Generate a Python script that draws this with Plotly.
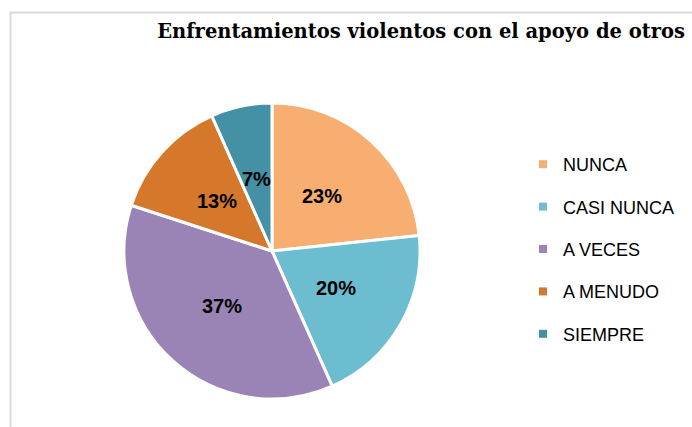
import math
import plotly.graph_objects as go

# Data
categories = ["NUNCA", "CASI NUNCA", "A VECES", "A MENUDO", "SIEMPRE"]
counts = [7, 6, 11, 4, 2]
title_text = "Enfrentamientos violentos con el apoyo de otros"

# Styles
slice_colors = ["#F8AE70", "#6DBDD1", "#9A84B5", "#D6782C", "#4490A5"]
W, H = 692, 427
pie_x = [124 / W, 420 / W]
pie_y = [(H - 399) / H, (H - 103) / H]

fig = go.Figure()
fig.add_trace(go.Pie(
    labels=categories,
    values=counts,
    sort=False,
    direction="clockwise",
    rotation=0,
    marker=dict(colors=slice_colors, line=dict(color="white", width=3)),
    textinfo="none",
    showlegend=False,
    hoverinfo="label+percent",
    domain=dict(x=pie_x, y=pie_y),
))

# Percentage labels placed at half radius along each slice bisector (Excel style)
total = sum(counts)
cx_px = (pie_x[0] + pie_x[1]) / 2 * W
cy_px = (pie_y[0] + pie_y[1]) / 2 * H
r_px = min((pie_x[1] - pie_x[0]) * W, (pie_y[1] - pie_y[0]) * H) / 2
cum = 0
annotations = []
for v in counts:
    mid = (cum + v / 2) / total * 2 * math.pi
    cum += v
    px = cx_px + 0.5 * r_px * math.sin(mid)
    py = cy_px + 0.5 * r_px * math.cos(mid)
    annotations.append(dict(
        x=px / W, y=py / H, xref="paper", yref="paper",
        text=f"<b>{round(100 * v / total)}%</b>", showarrow=False,
        xanchor="center", yanchor="middle",
        font=dict(family="Liberation Sans", size=20, color="black"),
    ))

# Legend entries (one per category, grouped to space them like the reference)
for i, (cat, col) in enumerate(zip(categories, slice_colors)):
    fig.add_trace(go.Scatter(
        x=[None], y=[None], mode="markers", name=cat,
        marker=dict(symbol="square", size=8, color=col),
        legendgroup=f"g{i}", showlegend=True, hoverinfo="skip",
    ))

fig.update_layout(
    width=W, height=H,
    margin=dict(l=0, r=0, t=0, b=0),
    paper_bgcolor="white",
    plot_bgcolor="white",
    xaxis=dict(visible=False),
    yaxis=dict(visible=False),
    title=dict(
        text=f"<b>{title_text}</b>",
        font=dict(family="DejaVu Serif", size=19.5, color="black"),
        x=685 / W, xanchor="right", xref="paper",
        y=1 - 31 / H, yanchor="middle", yref="paper",
    ),
    annotations=annotations,
    legend=dict(
        x=523 / W, xanchor="left",
        y=1 - 146 / H, yanchor="top",
        font=dict(family="Liberation Sans", size=18, color="black"),
        tracegroupgap=16,
        itemwidth=30,
        bgcolor="rgba(0,0,0,0)",
    ),
    shapes=[
        dict(type="line", xref="paper", yref="paper", x0=10 / W, x1=1, y0=1 - 12.5 / H, y1=1 - 12.5 / H,
             line=dict(color="#D9D9D9", width=2)),
        dict(type="line", xref="paper", yref="paper", x0=10.5 / W, x1=10.5 / W, y0=0, y1=1 - 12 / H,
             line=dict(color="#D9D9D9", width=2)),
    ],
)

fig.write_html("out.html", config={"displayModeBar": False},
               post_script="document.body.style.margin='0';")
